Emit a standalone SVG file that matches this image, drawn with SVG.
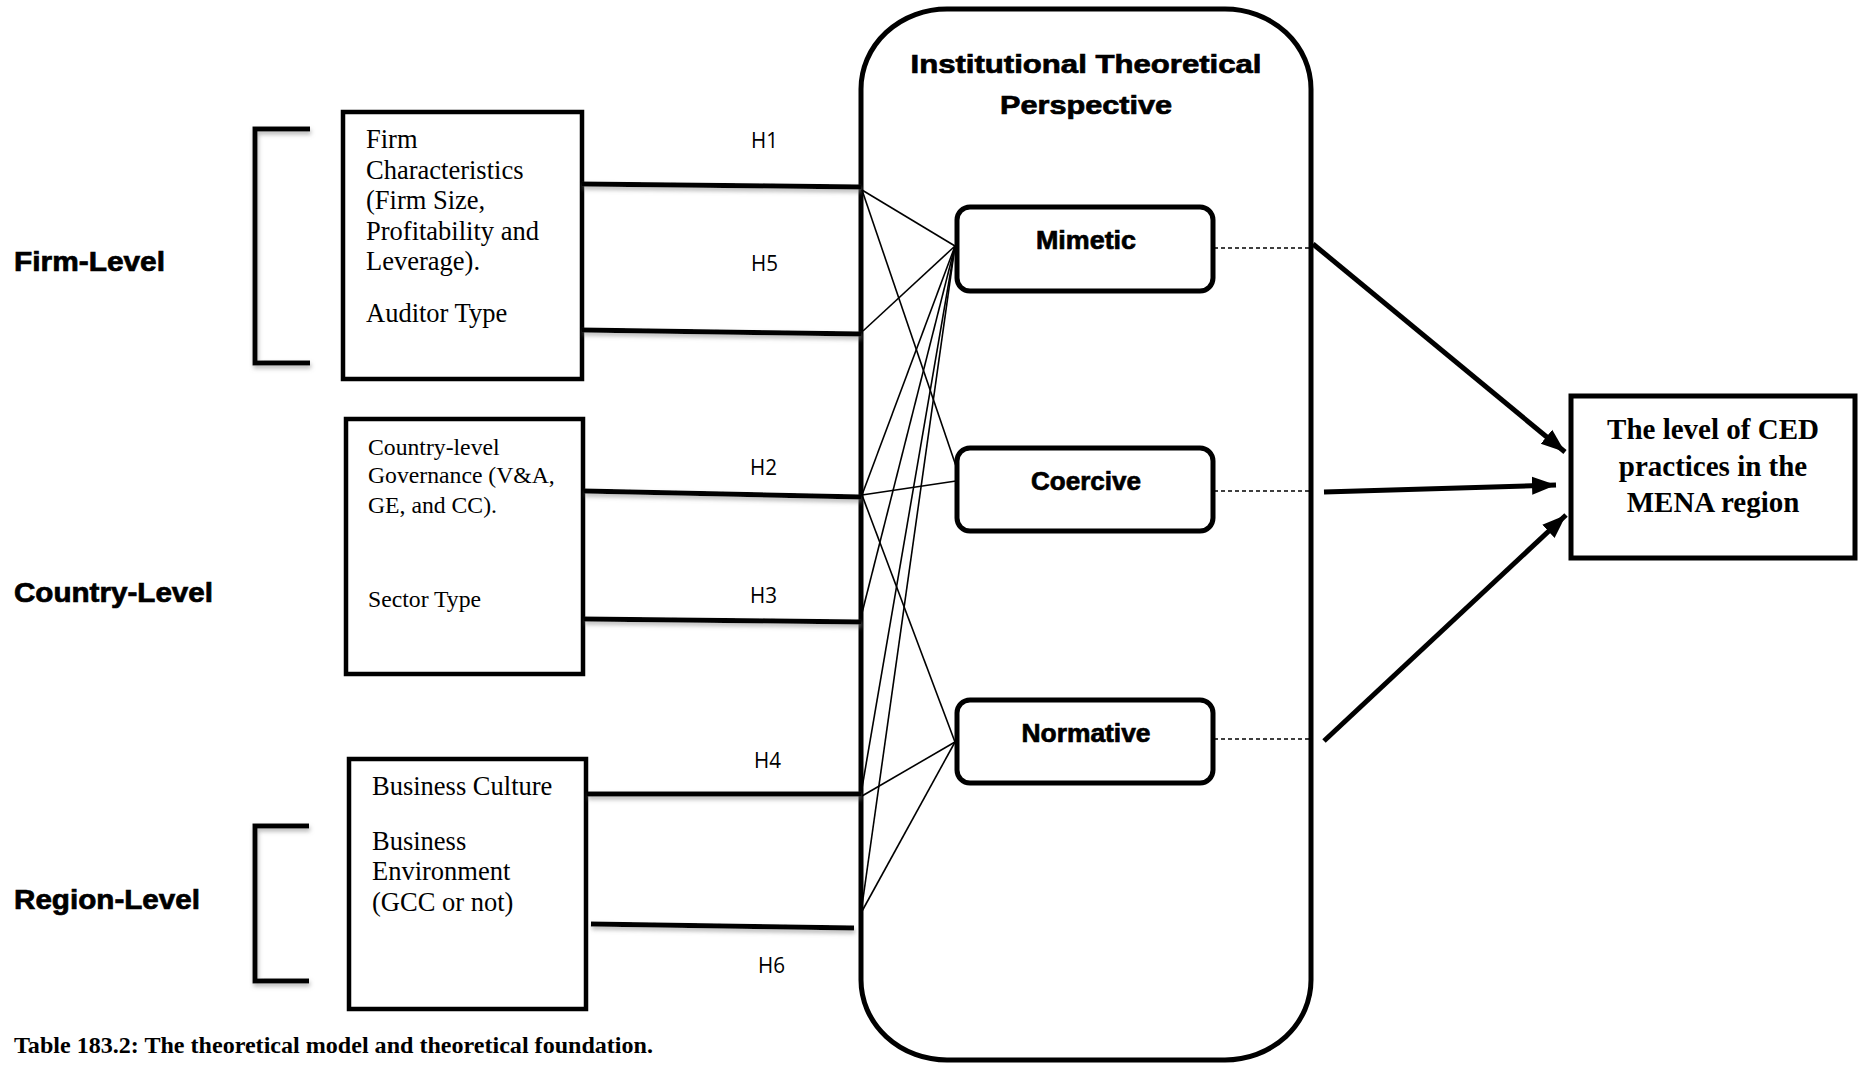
<svg xmlns="http://www.w3.org/2000/svg" width="1858" height="1065" viewBox="0 0 1858 1065">
<style>
.lvl{font-family:"Liberation Sans",Arial,sans-serif;font-weight:bold;font-size:27px;fill:#000;stroke:#000;stroke-width:0.7}
.ser{font-family:"Liberation Serif","Times New Roman",serif;font-size:26.5px;fill:#000}
.ser2{font-family:"Liberation Serif","Times New Roman",serif;font-size:23.7px;fill:#000}
.hl{font-family:"Open Sans","Liberation Sans",sans-serif;font-size:21px;fill:#000}
.nd{font-family:"Liberation Sans",Arial,sans-serif;font-weight:bold;font-size:26px;fill:#000;stroke:#000;stroke-width:0.7;text-anchor:middle}
.box{fill:#fff;stroke:#000;stroke-width:4.5}
.thick{stroke:#000;stroke-width:5;fill:none}
.thin{stroke:#000;stroke-width:1.6;fill:none}
.dash{stroke:#000;stroke-width:1.5;stroke-dasharray:4 3;fill:none}
.arr{stroke:#000;stroke-width:5;fill:none;marker-end:url(#ah)}
.ced{font-family:"Liberation Serif","Times New Roman",serif;font-weight:bold;font-size:29px;fill:#000;text-anchor:middle}
</style>
<defs>
<filter id="sh" x="-10%" y="-50%" width="120%" height="300%">
<feDropShadow dx="1" dy="3" stdDeviation="2" flood-color="#888" flood-opacity="0.6"/>
</filter>
<marker id="ah" markerUnits="userSpaceOnUse" markerWidth="26" markerHeight="20" refX="24" refY="10" orient="auto">
<path d="M0,1 L24,10 L0,19 Z" fill="#000"/>
</marker>
</defs>
<rect width="1858" height="1065" fill="#fff"/>

<g id="firm-level">
<text class="lvl" x="14" y="271" textLength="151" lengthAdjust="spacingAndGlyphs">Firm-Level</text>
<path class="thick" d="M310,129 H255 V363 H310" filter="url(#sh)"/>
</g>
<g id="country-level">
<text class="lvl" x="14" y="602" textLength="199" lengthAdjust="spacingAndGlyphs">Country-Level</text>
<path class="thick" d="M259,597 H324" filter="url(#sh)"/>
</g>
<g id="region-level">
<text class="lvl" x="14" y="909" textLength="186" lengthAdjust="spacingAndGlyphs">Region-Level</text>
<path class="thick" d="M309,826 H255 V981 H309" filter="url(#sh)"/>
</g>

<g id="firm-box">
<rect class="box" x="343" y="112" width="239" height="267"/>
<text class="ser" x="366" y="148">Firm</text>
<text class="ser" x="366" y="179">Characteristics</text>
<text class="ser" x="366" y="209">(Firm Size,</text>
<text class="ser" x="366" y="240">Profitability and</text>
<text class="ser" x="366" y="270">Leverage).</text>
<text class="ser" x="366" y="322">Auditor Type</text>
</g>
<g id="country-box">
<rect class="box" x="346" y="419" width="237" height="255"/>
<text class="ser2" x="368" y="455">Country-level</text>
<text class="ser2" x="368" y="483">Governance (V&amp;A,</text>
<text class="ser2" x="368" y="513">GE, and CC).</text>
<text class="ser2" x="368" y="607">Sector Type</text>
</g>
<g id="region-box">
<rect class="box" x="349" y="759" width="237" height="250"/>
<text class="ser" x="372" y="795">Business Culture</text>
<text class="ser" x="372" y="850">Business</text>
<text class="ser" x="372" y="880">Environment</text>
<text class="ser" x="372" y="911">(GCC or not)</text>
</g>

<g id="institutional">
<rect x="861" y="9" width="450" height="1051" rx="86" ry="80" fill="none" stroke="#000" stroke-width="5"/>
<text class="nd" x="1086" y="73" font-size="30" textLength="351" lengthAdjust="spacingAndGlyphs">Institutional Theoretical</text>
<text class="nd" x="1086" y="114" font-size="30" textLength="172" lengthAdjust="spacingAndGlyphs">Perspective</text>
</g>
<g id="mimetic">
<rect x="957" y="207" width="256" height="84" rx="13" fill="#fff" stroke="#000" stroke-width="5"/>
<text class="nd" x="1086" y="249" textLength="100" lengthAdjust="spacingAndGlyphs">Mimetic</text>
</g>
<g id="coercive">
<rect x="957" y="448" width="256" height="83" rx="13" fill="#fff" stroke="#000" stroke-width="5"/>
<text class="nd" x="1086" y="490" textLength="110" lengthAdjust="spacingAndGlyphs">Coercive</text>
</g>
<g id="normative">
<rect x="957" y="700" width="256" height="83" rx="13" fill="#fff" stroke="#000" stroke-width="5"/>
<text class="nd" x="1086" y="742" textLength="129" lengthAdjust="spacingAndGlyphs">Normative</text>
</g>
<g id="ced">
<rect x="1571" y="396" width="284" height="162" fill="#fff" stroke="#000" stroke-width="5"/>
<text class="ced" x="1713" y="439">The level of CED</text>
<text class="ced" x="1713" y="476">practices in the</text>
<text class="ced" x="1713" y="512">MENA region</text>
</g>

<g id="connectors">
<g filter="url(#sh)">
<path class="thick" d="M582,184 L861,187"/>
<path class="thick" d="M582,330 L861,334"/>
<path class="thick" d="M584,491 L861,497"/>
<path class="thick" d="M584,619 L861,622"/>
<path class="thick" d="M587,794 L861,794"/>
<path class="thick" d="M591,924 L854,928"/>
</g>
<path class="thin" d="M862,190 L955,246"/>
<path class="thin" d="M862,190 L956,466"/>
<path class="thin" d="M863,331 L955,246"/>
<path class="thin" d="M862,495 L955,246"/>
<path class="thin" d="M862,495 L956,481"/>
<path class="thin" d="M862,495 L955,742"/>
<path class="thin" d="M862,613 L955,246"/>
<path class="thin" d="M862,788 L955,246"/>
<path class="thin" d="M862,796 L955,742"/>
<path class="thin" d="M861,913 L955,246"/>
<path class="thin" d="M861,913 L955,742"/>
<path class="dash" d="M1214,248 H1311"/>
<path class="dash" d="M1214,491 H1311"/>
<path class="dash" d="M1214,739 H1311"/>
<path class="arr" d="M1313,244 L1565,452"/>
<path class="arr" d="M1324,492 L1556,485"/>
<path class="arr" d="M1324,741 L1566,515"/>
</g>

<g id="labels">
<text class="hl" x="751" y="148" textLength="27" lengthAdjust="spacingAndGlyphs">H1</text>
<text class="hl" x="751" y="271" textLength="27" lengthAdjust="spacingAndGlyphs">H5</text>
<text class="hl" x="750" y="475" textLength="27" lengthAdjust="spacingAndGlyphs">H2</text>
<text class="hl" x="750" y="603" textLength="27" lengthAdjust="spacingAndGlyphs">H3</text>
<text class="hl" x="754" y="768" textLength="27" lengthAdjust="spacingAndGlyphs">H4</text>
<text class="hl" x="758" y="973" textLength="27" lengthAdjust="spacingAndGlyphs">H6</text>
</g>

<text x="14" y="1053" font-family="'Liberation Serif','Times New Roman',serif" font-weight="bold" font-size="24" textLength="639" lengthAdjust="spacingAndGlyphs">Table 183.2: The theoretical model and theoretical foundation.</text>
</svg>
